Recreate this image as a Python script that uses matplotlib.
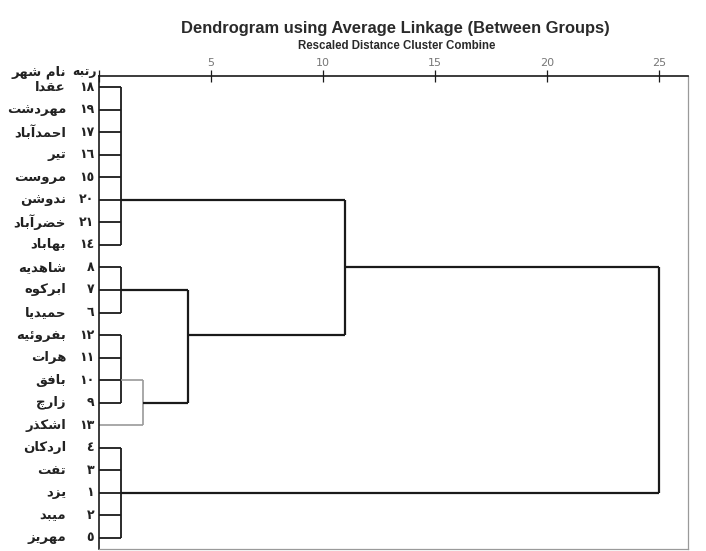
import matplotlib
matplotlib.use("Agg")
import matplotlib.pyplot as plt
from matplotlib.transforms import blended_transform_factory

# ---------------- data ----------------
city_names = ["عقدا", "مهردشت", "احمدآباد", "تیر", "مروست", "ندوشن", "خضرآباد",
              "بهاباد", "شاهدیه", "ابرکوه", "حمیدیا", "بفروئیه", "هرات", "بافق",
              "زارچ", "اشکذر", "اردکان", "تفت", "یزد", "میبد", "مهریز"]
city_ranks = [18, 19, 17, 16, 15, 20, 21, 14, 8, 7, 6, 12, 11, 10, 9, 13, 4, 3, 1, 2, 5]
header_rank = "رتبه"
header_name = "نام شهر"
title = "Dendrogram using Average Linkage (Between Groups)"
subtitle = "Rescaled Distance Cluster Combine"
tick_values = [0, 5, 10, 15, 20, 25]
tick_labels = ["", "5", "10", "15", "20", "25"]

# first-level clusters: (name, member rows, rescaled distance, row of the stem)
leaf_groups = [
    ("A", [1, 2, 3, 4, 5, 6, 7, 8], 1.0, 6),
    ("B", [9, 10, 11], 1.0, 10),
    ("C", [12, 13, 14, 15], 1.0, 14),
    ("D", [17, 18, 19, 20, 21], 1.0, 19),
]
single_leaves = [("L16", 16)]
# higher merges: (new name, child 1, child 2, rescaled distance, stem row)
merges = [
    ("E", "C", "L16", 2.0, 15),
    ("F", "B", "E", 4.0, 12),
    ("G", "A", "F", 11.0, 9),
    ("ROOT", "G", "D", 25.0, None),
]
light_merges = {"E"}

# ---------------- Arabic shaping (no bidi support in matplotlib) ----------------
FORMS = {
    'ا': ('\uFE8D', '\uFE8E', None, None), 'آ': ('\uFE81', '\uFE82', None, None),
    'ب': ('\uFE8F', '\uFE90', '\uFE91', '\uFE92'), 'ت': ('\uFE95', '\uFE96', '\uFE97', '\uFE98'),
    'ث': ('\uFE99', '\uFE9A', '\uFE9B', '\uFE9C'), 'ج': ('\uFE9D', '\uFE9E', '\uFE9F', '\uFEA0'),
    'ح': ('\uFEA1', '\uFEA2', '\uFEA3', '\uFEA4'), 'خ': ('\uFEA5', '\uFEA6', '\uFEA7', '\uFEA8'),
    'د': ('\uFEA9', '\uFEAA', None, None), 'ذ': ('\uFEAB', '\uFEAC', None, None),
    'ر': ('\uFEAD', '\uFEAE', None, None), 'ز': ('\uFEAF', '\uFEB0', None, None),
    'س': ('\uFEB1', '\uFEB2', '\uFEB3', '\uFEB4'), 'ش': ('\uFEB5', '\uFEB6', '\uFEB7', '\uFEB8'),
    'ص': ('\uFEB9', '\uFEBA', '\uFEBB', '\uFEBC'), 'ض': ('\uFEBD', '\uFEBE', '\uFEBF', '\uFEC0'),
    'ط': ('\uFEC1', '\uFEC2', '\uFEC3', '\uFEC4'), 'ظ': ('\uFEC5', '\uFEC6', '\uFEC7', '\uFEC8'),
    'ع': ('\uFEC9', '\uFECA', '\uFECB', '\uFECC'), 'غ': ('\uFECD', '\uFECE', '\uFECF', '\uFED0'),
    'ف': ('\uFED1', '\uFED2', '\uFED3', '\uFED4'), 'ق': ('\uFED5', '\uFED6', '\uFED7', '\uFED8'),
    'ك': ('\uFED9', '\uFEDA', '\uFEDB', '\uFEDC'), 'ل': ('\uFEDD', '\uFEDE', '\uFEDF', '\uFEE0'),
    'م': ('\uFEE1', '\uFEE2', '\uFEE3', '\uFEE4'), 'ن': ('\uFEE5', '\uFEE6', '\uFEE7', '\uFEE8'),
    'ه': ('\uFEE9', '\uFEEA', '\uFEEB', '\uFEEC'), 'و': ('\uFEED', '\uFEEE', None, None),
    'ي': ('\uFEF1', '\uFEF2', '\uFEF3', '\uFEF4'), 'ئ': ('\uFE89', '\uFE8A', '\uFE8B', '\uFE8C'),
    'ی': ('\uFBFC', '\uFBFD', '\uFBFE', '\uFBFF'), 'ک': ('\uFB8E', '\uFB8F', '\uFB90', '\uFB91'),
    'گ': ('\uFB92', '\uFB93', '\uFB94', '\uFB95'), 'پ': ('\uFB56', '\uFB57', '\uFB58', '\uFB59'),
    'چ': ('\uFB7A', '\uFB7B', '\uFB7C', '\uFB7D'), 'ژ': ('\uFB8A', '\uFB8B', None, None),
}


def shape(text):
    out = []
    n = len(text)
    for i, ch in enumerate(text):
        f = FORMS.get(ch)
        if f is None:
            out.append(ch)
            continue
        prev = text[i - 1] if i > 0 else None
        nxt = text[i + 1] if i + 1 < n else None
        join_prev = prev in FORMS and FORMS[prev][2] is not None
        join_next = f[2] is not None and nxt in FORMS
        if join_prev and join_next:
            out.append(f[3])
        elif join_prev:
            out.append(f[1])
        elif join_next:
            out.append(f[2])
        else:
            out.append(f[0])
    return "".join(reversed(out))


def arabic_digits(n):
    return "".join(chr(0x0660 + int(d)) for d in str(n))


# ---------------- figure ----------------
fig = plt.figure(figsize=(7.06, 5.51), dpi=100)
ax = fig.add_axes([98.5 / 706, 2.0 / 551, 589.5 / 706, 473.0 / 551])
ax.set_xlim(0, 26.3)
ax.set_ylim(21.5, 0.5)

dark = "#1a1a1a"
light = "#9a9a9a"

nodes = {}
for name, rows, h, stem in leaf_groups:
    for r in rows:
        ax.plot([0, h], [r, r], color=dark, lw=1.3, solid_capstyle="butt")
    ax.plot([h, h], [min(rows), max(rows)], color=dark, lw=1.3, solid_capstyle="butt")
    nodes[name] = (h, stem)
for name, r in single_leaves:
    nodes[name] = (0.0, r)

for name, c1, c2, h, stem in merges:
    col = light if name in light_merges else dark
    lw = 1.2 if name in light_merges else 1.6
    (x1, y1), (x2, y2) = nodes[c1], nodes[c2]
    ax.plot([x1, h], [y1, y1], color=col, lw=lw, solid_capstyle="butt")
    ax.plot([x2, h], [y2, y2], color=col, lw=lw, solid_capstyle="butt")
    ax.plot([h, h], [y1, y2], color=col, lw=lw, solid_capstyle="butt")
    nodes[name] = (h, stem)

# frame
for s in ("left", "top"):
    ax.spines[s].set_color(dark)
    ax.spines[s].set_linewidth(1.2)
for s in ("right", "bottom"):
    ax.spines[s].set_color("#9a9a9a")
    ax.spines[s].set_linewidth(0.9)

ax.xaxis.tick_top()
ax.set_xticks(tick_values)
ax.set_xticklabels(tick_labels)
ax.tick_params(axis="x", direction="inout", length=9, width=0.9, colors="#777777",
               labelsize=8, pad=1)
ax.tick_params(axis="x", which="both", color=dark)
ax.set_yticks([])

# row labels
trans = blended_transform_factory(fig.transFigure, ax.transData)
for i, (nm, rk) in enumerate(zip(city_names, city_ranks)):
    row = i + 1
    ax.text(94 / 706, row, arabic_digits(rk), transform=trans, ha="right", va="center",
            fontsize=9, fontweight="bold", family="DejaVu Sans", color="#222222")
    ax.text(66 / 706, row, shape(nm), transform=trans, ha="right", va="center",
            fontsize=9.5, fontweight="bold", family="DejaVu Sans", color="#222222")

fig.text(97 / 706, 1 - 72 / 551, shape(header_rank), ha="right", va="center",
         fontsize=9, fontweight="bold", family="DejaVu Sans", color="#222222")
fig.text(66 / 706, 1 - 72 / 551, shape(header_name), ha="right", va="center",
         fontsize=9.5, fontweight="bold", family="DejaVu Sans", color="#222222")

fig.text(395 / 706, 1 - 28 / 551, title, ha="center", va="center",
         fontsize=11.9, fontweight="bold", family="Liberation Sans", color="#2a2a2a")
fig.text(397 / 706, 1 - 46 / 551, subtitle, ha="center", va="center",
         fontsize=8.3, fontweight="bold", family="Liberation Sans", color="#2a2a2a")

fig.savefig("out.png", dpi=100)
